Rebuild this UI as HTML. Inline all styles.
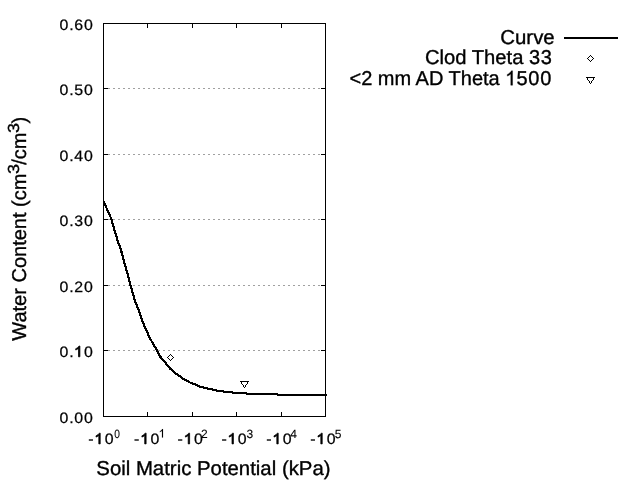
<!DOCTYPE html>
<html><head><meta charset="utf-8"><style>
html,body{margin:0;padding:0;background:#fff;}
svg{display:block;position:absolute;left:0;top:0;will-change:transform}
text{font-family:"Liberation Sans",sans-serif;fill:#000;stroke:#000;stroke-width:0.35px;white-space:pre;text-rendering:geometricPrecision}
.g1{fill:#000;stroke:#000;stroke-width:0.35px;vector-effect:non-scaling-stroke}
.t{font-size:15px;stroke-width:0.25px}
.su{font-size:12px;stroke-width:0.1px}
.gt{stroke-width:0.75px}
.gsu{stroke-width:0.1px}
.b{font-size:20px}
.sb{font-size:16px}
</style></head><body>
<svg width="640" height="480" viewBox="0 0 640 480">
<rect width="640" height="480" fill="#fff"/>
<g shape-rendering="crispEdges">
<line x1="103.0" y1="350.5" x2="326.0" y2="350.5" stroke="#a0a0a0" stroke-width="1" stroke-dasharray="2 3"/>
<line x1="103.0" y1="285.5" x2="326.0" y2="285.5" stroke="#a0a0a0" stroke-width="1" stroke-dasharray="2 3"/>
<line x1="103.0" y1="219.5" x2="326.0" y2="219.5" stroke="#a0a0a0" stroke-width="1" stroke-dasharray="2 3"/>
<line x1="103.0" y1="154.5" x2="326.0" y2="154.5" stroke="#a0a0a0" stroke-width="1" stroke-dasharray="2 3"/>
<line x1="103.0" y1="88.5" x2="326.0" y2="88.5" stroke="#a0a0a0" stroke-width="1" stroke-dasharray="2 3"/>
<rect x="103.5" y="23.5" width="222.0" height="393.0" fill="none" stroke="#000" stroke-width="1"/>
<line x1="103.5" y1="416.5" x2="108.0" y2="416.5" stroke="#000"/>
<line x1="325.5" y1="416.5" x2="321.0" y2="416.5" stroke="#000"/>
<line x1="103.5" y1="350.5" x2="108.0" y2="350.5" stroke="#000"/>
<line x1="325.5" y1="350.5" x2="321.0" y2="350.5" stroke="#000"/>
<line x1="103.5" y1="285.5" x2="108.0" y2="285.5" stroke="#000"/>
<line x1="325.5" y1="285.5" x2="321.0" y2="285.5" stroke="#000"/>
<line x1="103.5" y1="219.5" x2="108.0" y2="219.5" stroke="#000"/>
<line x1="325.5" y1="219.5" x2="321.0" y2="219.5" stroke="#000"/>
<line x1="103.5" y1="154.5" x2="108.0" y2="154.5" stroke="#000"/>
<line x1="325.5" y1="154.5" x2="321.0" y2="154.5" stroke="#000"/>
<line x1="103.5" y1="88.5" x2="108.0" y2="88.5" stroke="#000"/>
<line x1="325.5" y1="88.5" x2="321.0" y2="88.5" stroke="#000"/>
<line x1="103.5" y1="23.5" x2="108.0" y2="23.5" stroke="#000"/>
<line x1="325.5" y1="23.5" x2="321.0" y2="23.5" stroke="#000"/>
<line x1="103.5" y1="416.5" x2="103.5" y2="412.0" stroke="#000"/>
<line x1="103.5" y1="23.5" x2="103.5" y2="28.0" stroke="#000"/>
<line x1="147.5" y1="416.5" x2="147.5" y2="412.0" stroke="#000"/>
<line x1="147.5" y1="23.5" x2="147.5" y2="28.0" stroke="#000"/>
<line x1="192.5" y1="416.5" x2="192.5" y2="412.0" stroke="#000"/>
<line x1="192.5" y1="23.5" x2="192.5" y2="28.0" stroke="#000"/>
<line x1="236.5" y1="416.5" x2="236.5" y2="412.0" stroke="#000"/>
<line x1="236.5" y1="23.5" x2="236.5" y2="28.0" stroke="#000"/>
<line x1="281.5" y1="416.5" x2="281.5" y2="412.0" stroke="#000"/>
<line x1="281.5" y1="23.5" x2="281.5" y2="28.0" stroke="#000"/>
<line x1="325.5" y1="416.5" x2="325.5" y2="412.0" stroke="#000"/>
<line x1="325.5" y1="23.5" x2="325.5" y2="28.0" stroke="#000"/>
<line x1="564" y1="38" x2="618" y2="38" stroke="#000" stroke-width="2"/>
</g>
<path d="M103.50,201.30 L107.40,210.00 L111.60,219.50 L113.00,225.00 L114.50,230.00 L117.40,240.00 L121.00,250.00 L123.60,260.00 L126.40,270.00 L129.25,280.00 L130.60,285.50 L131.90,290.00 L134.70,300.00 L138.60,310.00 L141.90,320.00 L146.10,330.00 L150.90,340.00 L157.20,350.50 L160.00,356.40 L165.00,362.20 L170.00,368.50 L175.00,372.80 L180.00,376.40 L185.00,379.90 L190.00,382.50 L195.00,384.45 L200.00,386.60 L201.50,387.00" fill="none" stroke="#000" stroke-width="2.2" stroke-linejoin="round" shape-rendering="crispEdges"/>
<path shape-rendering="crispEdges" fill="#000" d="M200,386H204v2H200zM203,387H208v2H203zM207,388H213v2H207zM212,389H217v2H212zM216,390H224v2H216zM223,391H233v2H223zM232,392H247v2H232zM246,393H278v2H246zM277,394H327v2H277z"/>
<path shape-rendering="crispEdges" fill="#000" d="M170,354h1v1h-1zM169,355h1v1h-1zM171,355h1v1h-1zM168,356h1v1h-1zM172,356h1v1h-1zM167,357h1v1h-1zM173,357h1v1h-1zM168,358h1v1h-1zM172,358h1v1h-1zM169,359h1v1h-1zM171,359h1v1h-1zM170,360h1v1h-1z"/>
<path shape-rendering="crispEdges" fill="#000" d="M240,381h1v1h-1zM241,381h1v1h-1zM242,381h1v1h-1zM243,381h1v1h-1zM244,381h1v1h-1zM245,381h1v1h-1zM246,381h1v1h-1zM247,381h1v1h-1zM248,381h1v1h-1zM241,382h1v1h-1zM247,382h1v1h-1zM241,383h1v1h-1zM247,383h1v1h-1zM242,384h1v1h-1zM246,384h1v1h-1zM243,385h1v1h-1zM245,385h1v1h-1zM243,386h1v1h-1zM245,386h1v1h-1zM244,387h1v1h-1z"/>
<path shape-rendering="crispEdges" fill="#000" d="M590,55h1v1h-1zM589,56h1v1h-1zM591,56h1v1h-1zM588,57h1v1h-1zM592,57h1v1h-1zM587,58h1v1h-1zM593,58h1v1h-1zM588,59h1v1h-1zM592,59h1v1h-1zM589,60h1v1h-1zM591,60h1v1h-1zM590,61h1v1h-1z"/>
<path shape-rendering="crispEdges" fill="#000" d="M586,77h1v1h-1zM587,77h1v1h-1zM588,77h1v1h-1zM589,77h1v1h-1zM590,77h1v1h-1zM591,77h1v1h-1zM592,77h1v1h-1zM593,77h1v1h-1zM594,77h1v1h-1zM587,78h1v1h-1zM593,78h1v1h-1zM587,79h1v1h-1zM593,79h1v1h-1zM588,80h1v1h-1zM592,80h1v1h-1zM589,81h1v1h-1zM591,81h1v1h-1zM589,82h1v1h-1zM591,82h1v1h-1zM590,83h1v1h-1z"/>
<g transform="translate(59.5,422.8) scale(1.06,1)"><text x="0.000" y="0" class="t" letter-spacing="0.75">0.00</text></g>
<g transform="translate(59.5,356.8) scale(1.06,1)"><text x="0.000" y="0" class="t" letter-spacing="0.75">0.</text><path class="g1 gt" transform="translate(13.660,0) scale(0.00732,-0.00732)" d="M763,0 H583 V1147 Q518,1085 412,1023 T223,930 V1104 Q373,1174 485,1275 T644,1470 H763 Z"/><text x="23.100" y="0" class="t" letter-spacing="0.75">0</text></g>
<g transform="translate(59.5,291.8) scale(1.06,1)"><text x="0.000" y="0" class="t" letter-spacing="0.75">0.20</text></g>
<g transform="translate(59.5,225.8) scale(1.06,1)"><text x="0.000" y="0" class="t" letter-spacing="0.75">0.30</text></g>
<g transform="translate(59.5,160.8) scale(1.06,1)"><text x="0.000" y="0" class="t" letter-spacing="0.75">0.40</text></g>
<g transform="translate(59.5,94.8) scale(1.06,1)"><text x="0.000" y="0" class="t" letter-spacing="0.75">0.50</text></g>
<g transform="translate(59.5,29.8) scale(1.06,1)"><text x="0.000" y="0" class="t" letter-spacing="0.75">0.60</text></g>
<g transform="translate(88.2,443.9) scale(1.06,1)"><text x="0.000" y="0" class="t" letter-spacing="1.1">-</text><path class="g1 gt" transform="translate(5.745,0) scale(0.00732,-0.00732)" d="M763,0 H583 V1147 Q518,1085 412,1023 T223,930 V1104 Q373,1174 485,1275 T644,1470 H763 Z"/><text x="15.535" y="0" class="t" letter-spacing="1.1">0</text></g>
<g transform="translate(114.30000000000001,437.6) scale(0.85,1)"><text x="0.000" y="0" class="su" letter-spacing="0.0">0</text></g>
<g transform="translate(134.1,443.9) scale(1.06,1)"><text x="0.000" y="0" class="t" letter-spacing="1.1">-</text><path class="g1 gt" transform="translate(5.745,0) scale(0.00732,-0.00732)" d="M763,0 H583 V1147 Q518,1085 412,1023 T223,930 V1104 Q373,1174 485,1275 T644,1470 H763 Z"/><text x="15.535" y="0" class="t" letter-spacing="1.1">0</text></g>
<g transform="translate(158.54999999999998,437.6) scale(1.0,1)"><path class="g1 gsu" transform="translate(0.000,0) scale(0.00586,-0.00586)" d="M763,0 H583 V1147 Q518,1085 412,1023 T223,930 V1104 Q373,1174 485,1275 T644,1470 H763 Z"/></g>
<g transform="translate(177.6,443.9) scale(1.06,1)"><text x="0.000" y="0" class="t" letter-spacing="1.1">-</text><path class="g1 gt" transform="translate(5.745,0) scale(0.00732,-0.00732)" d="M763,0 H583 V1147 Q518,1085 412,1023 T223,930 V1104 Q373,1174 485,1275 T644,1470 H763 Z"/><text x="15.535" y="0" class="t" letter-spacing="1.1">0</text></g>
<g transform="translate(200.9,437.6) scale(1.0,1)"><text x="0.000" y="0" class="su" letter-spacing="0.0">2</text></g>
<g transform="translate(221.4,443.9) scale(1.06,1)"><text x="0.000" y="0" class="t" letter-spacing="1.1">-</text><path class="g1 gt" transform="translate(5.745,0) scale(0.00732,-0.00732)" d="M763,0 H583 V1147 Q518,1085 412,1023 T223,930 V1104 Q373,1174 485,1275 T644,1470 H763 Z"/><text x="15.535" y="0" class="t" letter-spacing="1.1">0</text></g>
<g transform="translate(246.5,437.6) scale(1.0,1)"><text x="0.000" y="0" class="su" letter-spacing="0.0">3</text></g>
<g transform="translate(266.2,443.9) scale(1.06,1)"><text x="0.000" y="0" class="t" letter-spacing="1.1">-</text><path class="g1 gt" transform="translate(5.745,0) scale(0.00732,-0.00732)" d="M763,0 H583 V1147 Q518,1085 412,1023 T223,930 V1104 Q373,1174 485,1275 T644,1470 H763 Z"/><text x="15.535" y="0" class="t" letter-spacing="1.1">0</text></g>
<g transform="translate(290.20000000000005,437.6) scale(1.0,1)"><text x="0.000" y="0" class="su" letter-spacing="0.0">4</text></g>
<g transform="translate(310.2,443.9) scale(1.06,1)"><text x="0.000" y="0" class="t" letter-spacing="1.1">-</text><path class="g1 gt" transform="translate(5.745,0) scale(0.00732,-0.00732)" d="M763,0 H583 V1147 Q518,1085 412,1023 T223,930 V1104 Q373,1174 485,1275 T644,1470 H763 Z"/><text x="15.535" y="0" class="t" letter-spacing="1.1">0</text></g>
<g transform="translate(334.7,437.6) scale(1.0,1)"><text x="0.000" y="0" class="su" letter-spacing="0.0">5</text></g>
<text transform="translate(96.3,475) scale(1.018,1)" class="b" text-anchor="start" >Soil Matric Potential (kPa)</text>
<text transform="translate(25.6,340.7) rotate(-90)" class="b">Water Content (cm<tspan dy="-7" dx="-0.5" class="sb" textLength="10" lengthAdjust="spacingAndGlyphs">3</tspan><tspan dy="7" dx="-0.6">/cm</tspan><tspan dy="-7" dx="-0.5" class="sb" textLength="10" lengthAdjust="spacingAndGlyphs">3</tspan><tspan dy="7" dx="-0.6">)</tspan></text>
<text transform="translate(554.7,43.9) scale(1.02,1)" class="b" text-anchor="end" >Curve</text>
<text x="529" y="64.3" class="b" text-anchor="end" transform="translate(529,0) scale(1.01,1) translate(-529,0)">Clod Theta </text>
<text x="529.1" y="64.3" class="b" letter-spacing="0.45">33</text>
<text x="505.3" y="85.2" class="b" text-anchor="end">&lt;2 mm AD Theta </text>
<path class="g1" transform="translate(505.1,85.2) scale(0.00977,-0.00977)" d="M763,0 H583 V1147 Q518,1085 412,1023 T223,930 V1104 Q373,1174 485,1275 T644,1470 H763 Z"/>
<text x="516.52" y="85.2" class="b" letter-spacing="0.7">500</text>
</svg></body></html>
